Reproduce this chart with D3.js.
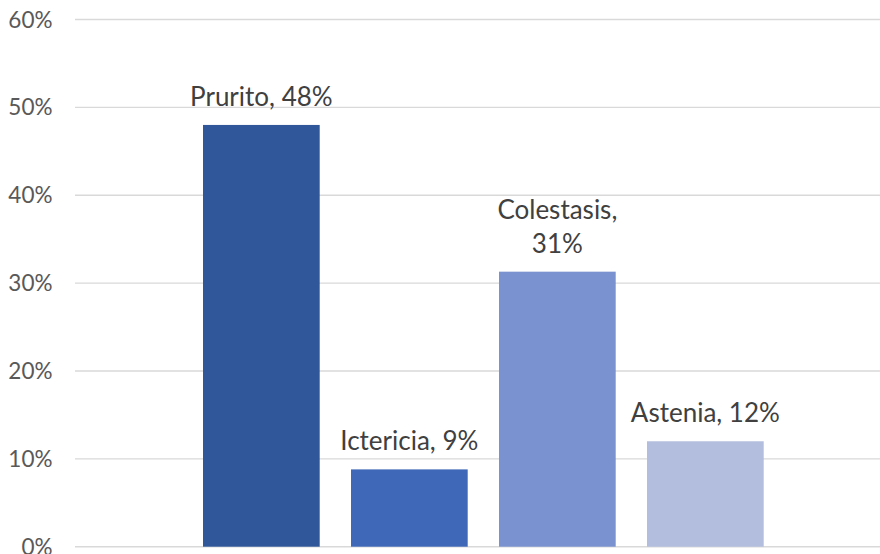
<!DOCTYPE html>
<html>
<head>
<meta charset="utf-8">
<script src="https://cdn.jsdelivr.net/npm/d3@7"></script>
<style>
  html, body { margin: 0; padding: 0; background: #ffffff; }
  svg { display: block; font-family: Lato, "Open Sans", sans-serif; }
</style>
</head>
<body>
<svg id="chart" width="880" height="554"></svg>
<script>
// Symptom frequencies
const categories = ["Prurito", "Ictericia", "Colestasis", "Astenia"];
const values = [0.48, 0.088, 0.313, 0.12];
const labelValues = ["48%", "9%", "31%", "12%"];
const colors = ["#30579A", "#3F69B8", "#7A92CF", "#B3BEDE"];
const yTicks = [0, 0.1, 0.2, 0.3, 0.4, 0.5, 0.6];

const svg = d3.select("#chart");
const width = 880;

const plot = { left: 75, top: 19.5, bottom: 546.7 };

const y = d3.scaleLinear().domain([0, 0.6]).range([plot.bottom, plot.top]);
const x = d3.scaleBand()
  .domain(categories)
  .range([203, 763.7])
  .paddingInner(0.2115)
  .paddingOuter(0);

// Horizontal gridlines
svg.append("g")
  .selectAll("line")
  .data(yTicks)
  .join("line")
  .attr("x1", plot.left)
  .attr("x2", width)
  .attr("y1", d => y(d))
  .attr("y2", d => y(d))
  .attr("stroke", "#D9D9D9")
  .attr("stroke-width", 1.4);

// Y axis tick labels
const fmt = d3.format(".0%");
svg.append("g")
  .selectAll("text")
  .data(yTicks)
  .join("text")
  .attr("x", 52.5)
  .attr("y", d => y(d))
  .attr("dy", "0.36em")
  .attr("text-anchor", "end")
  .attr("fill", "#595959")
  .style("font-size", "22.5px")
  .text(d => fmt(d));

// Bars
svg.append("g")
  .selectAll("rect")
  .data(categories)
  .join("rect")
  .attr("x", d => x(d))
  .attr("width", x.bandwidth())
  .attr("y", (d, i) => y(values[i]))
  .attr("height", (d, i) => y(0) - y(values[i]))
  .attr("fill", (d, i) => colors[i]);

// Data labels: "Category, value", wrapped after the comma when too wide
const maxLabelWidth = 160;
const lineHeight = 34;
const labels = svg.append("g")
  .selectAll("text")
  .data(categories)
  .join("text")
  .attr("text-anchor", "middle")
  .attr("fill", "#404040")
  .style("font-size", "26px");

labels.each(function (d, i) {
  const t = d3.select(this);
  const cx = x(d) + x.bandwidth() / 2;
  const base = y(values[i]) - 19;
  const full = d + ", " + labelValues[i];
  t.text(full);
  if (this.getComputedTextLength() > maxLabelWidth) {
    t.text(null);
    t.append("tspan").attr("x", cx).attr("y", base - lineHeight).text(d + ",");
    t.append("tspan").attr("x", cx).attr("y", base).text(labelValues[i]);
  } else {
    t.attr("x", cx).attr("y", base);
  }
});
</script>
</body>
</html>
